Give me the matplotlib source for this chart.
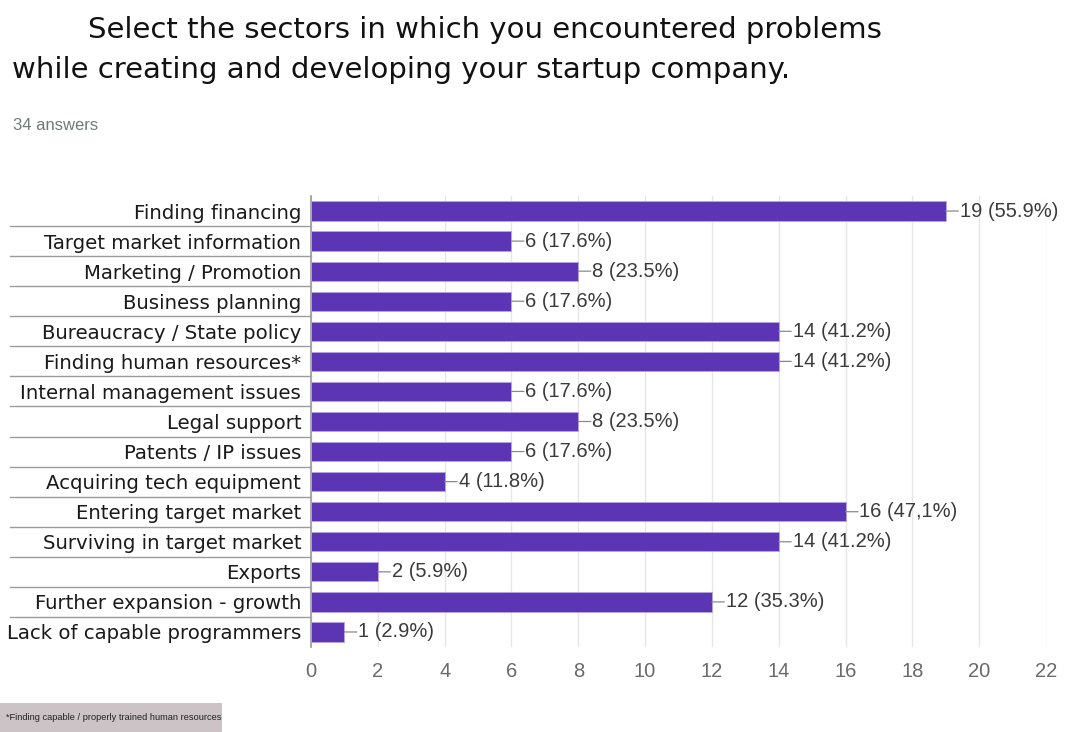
import matplotlib.pyplot as plt
from matplotlib import font_manager
from matplotlib.transforms import blended_transform_factory
from matplotlib.patches import Rectangle

categories = [
    "Finding financing",
    "Target market information",
    "Marketing / Promotion",
    "Business planning",
    "Bureaucracy / State policy",
    "Finding human resources*",
    "Internal management issues",
    "Legal support",
    "Patents / IP issues",
    "Acquiring tech equipment",
    "Entering target market",
    "Surviving in target market",
    "Exports",
    "Further expansion - growth",
    "Lack of capable programmers",
]
counts = [19, 6, 8, 6, 14, 14, 6, 8, 6, 4, 16, 14, 2, 12, 1]
percent_labels = ["55.9%", "17.6%", "23.5%", "17.6%", "41.2%", "41.2%", "17.6%",
                  "23.5%", "17.6%", "11.8%", "47,1%", "41.2%", "5.9%", "35.3%", "2.9%"]
x_ticks = [0, 2, 4, 6, 8, 10, 12, 14, 16, 18, 20, 22]

title_line1 = "Select the sectors in which you encountered problems"
title_line2 = "while creating and developing your startup company."
subtitle = "34 answers"
footnote = "*Finding capable / properly trained human resources"

BAR = "#5c35b5"

installed = {f.name for f in font_manager.fontManager.ttflist}
narrow = "Liberation Sans Narrow" if "Liberation Sans Narrow" in installed else None
if narrow:
    value_font, value_size = narrow, 15.5
    foot_font, foot_size = narrow, 8.6
else:
    value_font, value_size = "Liberation Sans", 14.5
    foot_font, foot_size = "Liberation Sans", 6.7

fig = plt.figure(figsize=(10.75, 7.32), dpi=100)
fig.patch.set_facecolor("white")

W, H = 1075, 732
left, right = 311 / W, 1046 / W
top, bottom = 1 - 196 / H, 1 - 647 / H
ax = fig.add_axes([left, bottom, right - left, top - bottom])

n = len(categories)
ypos = list(range(n))
ax.barh(ypos, counts, height=0.64, color=BAR, edgecolor="#b7a5e6", linewidth=0.6, zorder=3)
ax.set_ylim(n - 0.5, -0.5)
ax.set_xlim(0, 22)
ax.set_xticks(x_ticks)
ax.set_xticklabels([str(t) for t in x_ticks], fontsize=14.5, color="#6a6a6a",
                   family=value_font)
ax.tick_params(axis="x", length=0, pad=11)
ax.set_yticks(ypos)
ax.set_yticklabels(categories, fontsize=14.2, color="#1a1a1a", family="DejaVu Sans")
ax.tick_params(axis="y", length=0, pad=7)

ax.grid(axis="x", color="#e6e6e6", linewidth=1, zorder=0)
for s in ["top", "right", "bottom"]:
    ax.spines[s].set_visible(False)
ax.spines["left"].set_color("#9a9a9a")
ax.spines["left"].set_linewidth(1.2)

# separator rules under each category label
trans = blended_transform_factory(ax.transAxes, ax.transData)
x_start = -(311 - 10) / (1046 - 311)
for i in range(n - 1):
    ax.plot([x_start, 0.0], [i + 0.5, i + 0.5], transform=trans, color="#9c9c9c",
            linewidth=1.0, clip_on=False, zorder=1)

# value labels with short leader lines
for i, (c, p) in enumerate(zip(counts, percent_labels)):
    ax.annotate("", xy=(c, i), xytext=(9, 0), textcoords="offset points",
                arrowprops=dict(arrowstyle="-", color="#8a8a8a", lw=0.9,
                                shrinkA=0, shrinkB=0))
    ax.annotate(f"{c} ({p})", xy=(c, i), xytext=(10, 0), textcoords="offset points",
                va="center", ha="left", fontsize=value_size, color="#3a3a3a",
                family=value_font)

fig.text(88 / W, 1 - 30 / H, title_line1, fontsize=21, color="#111111",
         va="center", ha="left", family="DejaVu Sans")
fig.text(12 / W, 1 - 70 / H, title_line2, fontsize=21, color="#111111",
         va="center", ha="left", family="DejaVu Sans")
fig.text(13 / W, 1 - 125 / H, subtitle, fontsize=12, color="#6f7a76",
         va="center", ha="left", family="Liberation Sans")

fig.patches.append(Rectangle((0, 0), 222 / W, 29 / H, transform=fig.transFigure,
                             facecolor="#cbc3c6", edgecolor="none"))
fig.text(6 / W, 14 / H, footnote, fontsize=foot_size, color="#222222",
         va="center", ha="left", family=foot_font)

fig.savefig("out.png", dpi=100)
